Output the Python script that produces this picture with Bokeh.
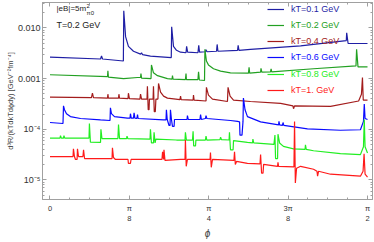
import math
from bokeh.plotting import figure
from bokeh.models import (FixedTicker, Legend, LegendItem, Label, LinearAxis,
                          LogAxis, Range1d)
from bokeh.embed import file_html
from bokeh.resources import INLINE

# ---------------- data ----------------
labels = ["kT=0.1 GeV", "kT=0.2 GeV", "kT=0.4 GeV", "kT=0.6 GeV", "kT=0.8 GeV", "kT=1. GeV"]
colors = ["#1f1fa5", "#22a022", "#a31c1c", "#0a0aff", "#22ee22", "#ff1a1a"]

phi_k01 = [0, 0.250, 0.255, 0.260, 0.363, 0.365, 0.374, 0.388, 0.413, 0.448, 0.453, 0.458,
           0.497, 0.600, 0.602, 0.611, 0.626, 0.646, 0.673, 0.676, 0.681, 0.732, 0.736, 0.740,
           0.769, 0.772, 0.777, 0.824, 0.827, 0.831, 0.928, 0.931, 0.935, 0.992, 1.240,
           1.466, 1.468, 1.475, 1.571]
r_k01 = [0.00265, 0.00243, 0.00278, 0.00243, 0.00222, 0.0217, 0.00671, 0.00431, 0.00346,
         0.00303, 0.00323, 0.00296, 0.00277, 0.00259, 0.0105, 0.00431, 0.00361, 0.00331,
         0.00323, 0.00431, 0.00331, 0.00323, 0.00451, 0.00331, 0.00338, 0.00370, 0.00338,
         0.00346, 0.00471, 0.00346, 0.00361, 0.00451, 0.00361, 0.00377, 0.00441,
         0.00562, 0.00801, 0.00492, 0.00492]

phi_k02 = [0, 0.2845, 0.2865, 0.289, 0.364, 0.433, 0.448, 0.450, 0.453, 0.4998, 0.502, 0.512,
           0.532, 0.581, 0.604, 0.606, 0.609, 0.670, 0.673, 0.675, 0.732, 0.735, 0.739,
           0.7645, 0.7665, 0.774, 0.784, 0.809, 0.844, 0.893, 0.982, 0.985, 0.988, 1.042,
           1.044, 1.048, 1.091, 1.094, 1.097, 1.304, 1.514, 1.517, 1.524, 1.571]
r_k02 = [0.00119, 0.00109, 0.00143, 0.00107, 0.00100, 0.00105, 0.00105, 0.00125, 0.00102,
         0.00100, 0.00186, 0.00130, 0.00114, 0.00100, 0.000978, 0.00114, 0.000978,
         0.000957, 0.00125, 0.000957, 0.000957, 0.00136, 0.000936, 0.000916, 0.00377,
         0.00222, 0.00186, 0.00156, 0.00140, 0.00130, 0.00128, 0.00167, 0.00128, 0.00134,
         0.00159, 0.00134, 0.00136, 0.00156, 0.00136, 0.00156, 0.00178, 0.00377, 0.00170,
         0.00170]

phi_k04 = [0, 0.205, 0.210, 0.215, 0.2845, 0.2865, 0.289, 0.339, 0.341, 0.344, 0.386, 0.388,
           0.393, 0.445, 0.448, 0.453, 0.480, 0.482, 0.486, 0.490, 0.492, 0.510, 0.512, 0.516,
           0.521, 0.524, 0.534, 0.537, 0.547, 0.562, 0.581, 0.643, 0.646, 0.649, 0.708, 0.710,
           0.713, 0.772, 0.774, 0.784, 0.804, 0.878, 0.881, 0.891, 0.908, 0.992, 1.141, 1.202,
           1.205, 1.210, 1.388, 1.527, 1.541, 1.546, 1.550, 1.571]
r_k04 = [0.000431, 0.000422, 0.000515, 0.000422, 0.000412, 0.000492, 0.000412, 0.000412,
         0.000492, 0.000412, 0.000403, 0.000515, 0.000403, 0.000394, 0.000492, 0.000394,
         0.000394, 0.000702, 0.000243, 0.000243, 0.000394, 0.000394, 0.000702, 0.000222,
         0.000222, 0.000394, 0.000394, 0.000801, 0.000538, 0.000451, 0.000412, 0.000385,
         0.000451, 0.000385, 0.000377, 0.000471, 0.000377, 0.000361, 0.000671, 0.000471,
         0.000394, 0.000353, 0.000671, 0.000451, 0.000377, 0.000353, 0.000324, 0.000290,
         0.000254, 0.000290, 0.000284, 0.000361, 0.000492, 0.00105, 0.000377, 0.000377]

phi_k06 = [0, 0.0643, 0.0668, 0.0717, 0.0816, 0.101, 0.151, 0.250, 0.297, 0.299, 0.304, 0.319,
           0.383, 0.396, 0.398, 0.402, 0.413, 0.416, 0.420, 0.430, 0.433, 0.436, 0.562, 0.574,
           0.576, 0.580, 0.589, 0.594, 0.596, 0.601, 0.606, 0.614, 0.616, 0.678, 0.680, 0.684,
           0.742, 0.745, 0.749, 0.769, 0.772, 0.776, 0.893, 0.928, 0.938, 0.940, 0.950, 0.955,
           0.957, 0.965, 0.977, 1.042, 1.131, 1.133, 1.136, 1.150, 1.153, 1.157, 1.274, 1.437,
           1.536, 1.551, 1.555, 1.559, 1.571]
r_k06 = [0.000136, 0.000130, 0.000290, 0.000243, 0.000203, 0.000178, 0.000163, 0.000153,
         0.000149, 0.000265, 0.000203, 0.000178, 0.000166, 0.000166, 0.000203, 0.000166,
         0.000166, 0.000212, 0.000166, 0.000163, 0.000194, 0.000163, 0.000153, 0.000153,
         0.000243, 0.000156, 0.000119, 0.000119, 0.000243, 0.000156, 0.000114, 0.000114,
         0.000156, 0.000156, 0.000186, 0.000156, 0.000156, 0.000194, 0.000156, 0.000163,
         0.000186, 0.000163, 0.000149, 0.000143, 0.000140, 7.67e-5, 7.67e-5, 0.000143,
         0.000412, 0.000243, 0.000178, 0.000140, 0.000122, 0.000143, 0.000122, 0.000119,
         0.000136, 0.000119, 0.000102, 9.57e-5, 9.8e-5, 0.000143, 0.000316, 0.000163,
         0.000156]

phi_k08 = [0, 0.0495, 0.052, 0.056, 0.0668, 0.069, 0.073, 0.193, 0.195, 0.200, 0.250, 0.252,
           0.257, 0.336, 0.339, 0.344, 0.379, 0.381, 0.385, 0.495, 0.497, 0.502, 0.512, 0.515,
           0.520, 0.524, 0.626, 0.668, 0.670, 0.675, 0.705, 0.708, 0.711, 0.720, 0.722, 0.769,
           0.772, 0.776, 0.841, 0.844, 0.848, 0.886, 0.888, 0.893, 0.906, 0.908, 0.977, 1.002,
           1.004, 1.008, 1.108, 1.113, 1.116, 1.126, 1.128, 1.136, 1.155, 1.205, 1.262, 1.264,
           1.268, 1.304, 1.437, 1.536, 1.551, 1.555, 1.559, 1.571]
r_k08 = [6.71e-5, 6.71e-5, 7.5e-5, 6.71e-5, 6.71e-5, 7.5e-5, 6.71e-5, 6.71e-5, 0.000130,
         5.55e-5, 5.5e-5, 0.000100, 6.57e-5, 6.57e-5, 0.000124, 6.57e-5, 6.57e-5, 7.3e-5,
         6.57e-5, 6.42e-5, 0.000100, 5.38e-5, 5.38e-5, 8.75e-5, 5.38e-5, 6.42e-5, 6.14e-5,
         6.14e-5, 8.75e-5, 6.14e-5, 6.14e-5, 9.16e-5, 4.71e-5, 4.71e-5, 6.14e-5, 6.14e-5,
         7.3e-5, 6.14e-5, 6.28e-5, 7.0e-5, 6.28e-5, 6.14e-5, 8.75e-5, 3.94e-5, 3.94e-5,
         6.0e-5, 5.5e-5, 5.38e-5, 6.42e-5, 5.38e-5, 5.05e-5, 7.67e-5, 2.65e-5, 2.65e-5,
         8.0e-5, 5.38e-5, 4.6e-5, 4.12e-5, 4.03e-5, 4.92e-5, 4.03e-5, 3.77e-5, 3.30e-5,
         3.16e-5, 4.51e-5, 0.000156, 4.51e-5, 3.4e-5]

phi_k10 = [0, 0.114, 0.116, 0.121, 0.126, 0.134, 0.136, 0.141, 0.163, 0.166, 0.171, 0.250,
           0.307, 0.309, 0.314, 0.324, 0.386, 0.388, 0.398, 0.401, 0.497, 0.554, 0.557, 0.562,
           0.564, 0.569, 0.646, 0.668, 0.670, 0.674, 0.680, 0.792, 0.794, 0.798, 0.804, 0.910,
           0.913, 0.917, 0.923, 0.977, 1.039, 1.042, 1.047, 1.054, 1.057, 1.126, 1.128, 1.131,
           1.207, 1.210, 1.214, 1.220, 1.240, 1.304, 1.321, 1.324, 1.329, 1.388, 1.536, 1.549,
           1.554, 1.559, 1.571]
r_k10 = [2.90e-5, 2.90e-5, 4.12e-5, 2.90e-5, 2.54e-5, 2.54e-5, 4.12e-5, 2.90e-5, 2.90e-5,
         3.94e-5, 2.65e-5, 2.65e-5, 2.65e-5, 4.31e-5, 2.77e-5, 2.54e-5, 2.54e-5, 2.12e-5,
         2.12e-5, 2.54e-5, 2.54e-5, 2.54e-5, 3.61e-5, 2.54e-5, 3.94e-5, 2.43e-5, 2.54e-5,
         2.54e-5, 6.14e-5, 1.86e-5, 2.54e-5, 2.54e-5, 3.46e-5, 1.78e-5, 2.54e-5, 2.43e-5,
         3.61e-5, 2.03e-5, 2.32e-5, 2.12e-5, 2.07e-5, 3.16e-5, 1.36e-5, 1.36e-5, 2.03e-5,
         1.86e-5, 2.22e-5, 1.86e-5, 1.82e-5, 0.000143, 8.75e-6, 1.70e-5, 1.86e-5, 1.63e-5,
         1.49e-5, 1.19e-5, 1.49e-5, 1.30e-5, 1.19e-5, 1.49e-5, 3.3e-5, 1.30e-5, 1.14e-5]

series_phi = [phi_k01, phi_k02, phi_k04, phi_k06, phi_k08, phi_k10]
series_r = [r_k01, r_k02, r_k04, r_k06, r_k08, r_k10]

x_ticks = [0, math.pi / 8, math.pi / 4, 3 * math.pi / 8, math.pi / 2]
x_tick_labels = ["0", "π\n8", "π\n4", "3π\n8", "π\n2"]
y_ticks = [1e-5, 1e-4, 1e-3, 1e-2]
y_tick_labels = ["10⁻⁵", "10⁻⁴", "0.001", "0.010"]

FONT = "Liberation Sans"
GRAY = "#a0a0a0"

p = figure(width=374, height=242, output_backend="svg", toolbar_location=None,
           title=None, y_axis_type="log",
           x_range=Range1d(-0.0371, 1.5957), y_range=Range1d(4.125e-6, 0.03162),
           min_border_left=42, min_border_right=2, min_border_top=2,
           min_border_bottom=38)
p.grid.visible = False
p.outline_line_color = GRAY
p.background_fill_color = "white"

x_minor = [k * math.pi / 32 for k in range(-1, 18)]
y_minor = [m * 10.0 ** e for e in range(-6, -1) for m in range(2, 10)]
xt = FixedTicker(ticks=x_ticks, minor_ticks=x_minor)
yt = FixedTicker(ticks=y_ticks, minor_ticks=y_minor)


def style(ax):
    ax.axis_line_color = GRAY
    ax.major_tick_line_color = GRAY
    ax.minor_tick_line_color = GRAY
    ax.major_tick_in = 4
    ax.major_tick_out = 0
    ax.minor_tick_in = 2
    ax.minor_tick_out = 0
    ax.major_label_text_font = FONT
    ax.major_label_text_color = "#333333"


xb = p.below[0]
xb.ticker = xt
xb.major_label_overrides = {t: s for t, s in zip(x_ticks, x_tick_labels)}
style(xb)
xb.major_label_text_font_size = "7.5px"
xb.major_label_standoff = 4
xb.axis_label = "ϕ"
xb.axis_label_text_font = FONT
xb.axis_label_text_font_style = "italic"
xb.axis_label_text_font_size = "10px"
xb.axis_label_standoff = 2

yl = p.left[0]
yl.ticker = yt
yl.major_label_overrides = {t: s for t, s in zip(y_ticks, y_tick_labels)}
style(yl)
yl.major_label_text_font_size = "9px"
yl.major_label_standoff = 2
yl.axis_label = "d³R/(kTdkTdϕdy) [GeV⁻²fm⁻⁴]"
yl.axis_label_text_font = FONT
yl.axis_label_text_font_style = "normal"
yl.axis_label_text_font_size = "7.5px"
yl.axis_label_standoff = 0

# frame ticks on the top and right sides (tick marks only, no labels)
for place, cls, majors, minors in (("above", LinearAxis, x_ticks, x_minor),
                                   ("right", LogAxis, y_ticks, y_minor)):
    for pos, length in ((majors, 4), (minors, 2)):
        ax = cls(ticker=FixedTicker(ticks=[], minor_ticks=pos))
        ax.axis_line_color = GRAY
        ax.minor_tick_line_color = GRAY
        ax.minor_tick_in = length
        ax.minor_tick_out = 0
        ax.major_tick_in = 0
        ax.major_tick_out = 0
        ax.major_label_standoff = 0
        p.add_layout(ax, place)

renderers = []
for ph, rv, c in zip(series_phi, series_r, colors):
    renderers.append(p.line(ph, rv, line_color=c, line_width=1.2))

# one small legend per entry so each label can take its series colour
row_bottoms = [184, 168, 152, 136, 119, 103]
for lab, r, c, yb in zip(labels, renderers, colors, row_bottoms):
    leg = Legend(items=[LegendItem(label=lab, renderers=[r])], location=(224, yb),
                 label_text_color=c, label_text_font=FONT, label_text_font_size="9px",
                 border_line_alpha=0, background_fill_alpha=0, padding=1, margin=0,
                 glyph_width=17, glyph_height=10, label_height=10, label_standoff=7)
    p.add_layout(leg)

p.add_layout(Label(x=14, y=191, x_units="screen", y_units="screen", text="|eB|=5m",
                   text_font=FONT, text_font_size="8px", text_baseline="middle",
                   text_color="#222222"))
p.add_layout(Label(x=44, y=194, x_units="screen", y_units="screen", text="2",
                   text_font=FONT, text_font_size="6px", text_baseline="middle",
                   text_color="#222222"))
p.add_layout(Label(x=44, y=187, x_units="screen", y_units="screen", text="π0",
                   text_font=FONT, text_font_size="6px", text_baseline="middle",
                   text_color="#222222"))
p.add_layout(Label(x=14, y=175, x_units="screen", y_units="screen", text="T=0.2 GeV",
                   text_font=FONT, text_font_size="9px", text_baseline="middle",
                   text_color="#222222"))

open("out.html", "w").write(file_html(p, INLINE))
